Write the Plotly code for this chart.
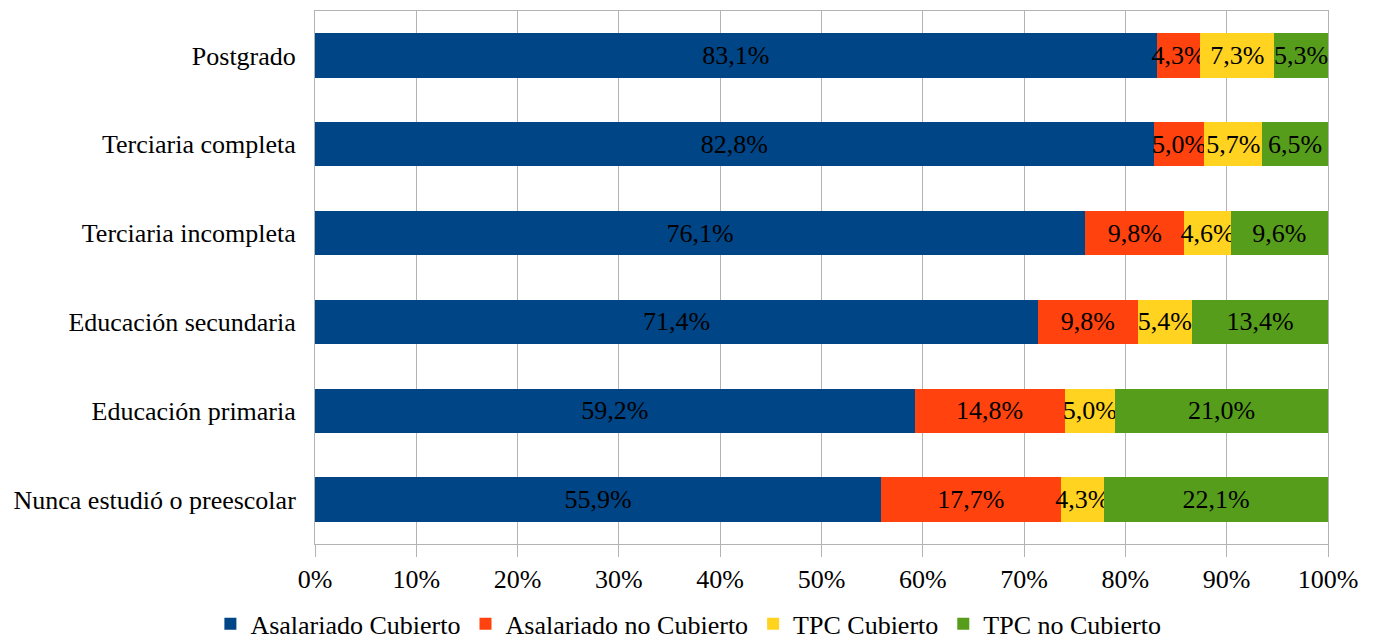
import plotly.graph_objects as go

categories = ["Postgrado", "Terciaria completa", "Terciaria incompleta",
              "Educación secundaria", "Educación primaria", "Nunca estudió o preescolar"]
series_names = ["Asalariado Cubierto", "Asalariado no Cubierto", "TPC Cubierto", "TPC no Cubierto"]
asal_cub = [83.1, 82.8, 76.1, 71.4, 59.2, 55.9]
asal_nocub = [4.3, 5.0, 9.8, 9.8, 14.8, 17.7]
tpc_cub = [7.3, 5.7, 4.6, 5.4, 5.0, 4.3]
tpc_nocub = [5.3, 6.5, 9.6, 13.4, 21.0, 22.1]
colors = ["#004586", "#ff420e", "#ffd320", "#579d1c"]
x_ticks = [0, 10, 20, 30, 40, 50, 60, 70, 80, 90, 100]
x_ticklabels = [f"{v}%" for v in x_ticks]

FONT = "Liberation Serif"
FS = 26

fig = go.Figure()
for name, vals, col in zip(series_names, [asal_cub, asal_nocub, tpc_cub, tpc_nocub], colors):
    fig.add_trace(go.Bar(
        y=categories, x=vals, name=name, orientation="h",
        marker=dict(color=col, line=dict(width=0)),
        text=[f"{v:.1f}%".replace(".", ",") for v in vals],
        textposition="inside", insidetextanchor="middle",
        constraintext="none", textangle=0,
        textfont=dict(family=FONT, size=FS, color="#000000"),
        hoverinfo="skip",
    ))

fig.update_layout(
    barmode="stack", barnorm="percent", bargap=0.5,
    width=1369, height=631,
    margin=dict(l=307, r=49, t=3, b=95, autoexpand=False),
    plot_bgcolor="white", paper_bgcolor="white",
    font=dict(family=FONT, size=FS, color="#000000"),
    uniformtext=dict(mode="show", minsize=FS),
    separators=",.",
    showlegend=True,
    legend=dict(orientation="h", xref="container", x=0.497, xanchor="center",
                yref="paper", y=-0.150, yanchor="middle",
                font=dict(family=FONT, size=FS, color="#000000"),
                itemwidth=30, traceorder="normal"),
    xaxis=dict(range=[0, 100], tickmode="array", tickvals=x_ticks, ticktext=x_ticklabels,
               showgrid=True, gridcolor="#b3b3b3", gridwidth=1,
               showline=True, linecolor="#b3b3b3", mirror=True,
               ticks="outside", ticklen=12, tickcolor="#b3b3b3",
               zeroline=False, fixedrange=True, automargin=False,
               tickfont=dict(family=FONT, size=FS, color="#000000")),
    yaxis=dict(autorange="reversed", type="category", categoryorder="array",
               categoryarray=categories, automargin=False,
               showline=True, linecolor="#b3b3b3", mirror=True,
               ticks="outside", ticklen=13, tickcolor="rgba(0,0,0,0)",
               showgrid=False,
               tickfont=dict(family=FONT, size=FS, color="#000000")),
    yaxis2=dict(overlaying="y", anchor="x", side="left", range=[5.5, -0.5],
                tickvals=[-0.5, 0.5, 1.5, 2.5, 3.5, 4.5, 5.5], automargin=False,
                showticklabels=False, ticks="outside", ticklen=12,
                tickcolor="#b3b3b3", showgrid=False, zeroline=False,
                showline=False),
)

fig.write_html("out.html")
